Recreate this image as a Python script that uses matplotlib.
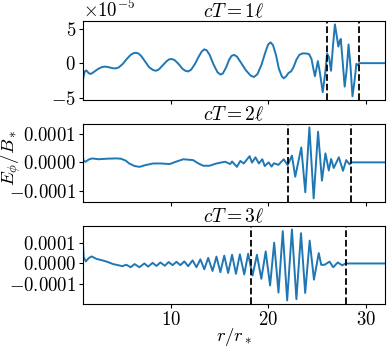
import matplotlib
matplotlib.use('Agg')
import matplotlib.pyplot as plt
import numpy as np

plt.rcParams['mathtext.fontset'] = 'cm'
plt.rcParams['font.family'] = 'serif'
plt.rcParams['font.serif'] = ['cmr10', 'DejaVu Serif']
plt.rcParams['axes.formatter.use_mathtext'] = True
plt.rcParams['font.size'] = 13.5

# panel 1 (cT = 1 l), values in units of 1e-5
r1 = [1.0, 1.1, 1.2, 1.35, 1.5, 1.7, 1.9, 2.2, 2.6, 3.0, 3.3, 3.7, 4.1, 4.4, 4.7, 5.1,
      5.5, 5.9, 6.2, 6.45, 6.7, 7.0, 7.4, 7.8, 8.2, 8.5, 8.8, 9.2, 9.6, 9.85, 10.1, 10.4,
      10.8, 11.2, 11.5, 11.8, 12.1, 12.5, 12.9, 13.2, 13.45, 13.7, 14.0, 14.4, 14.8, 15.1,
      15.35, 15.7, 16.0, 16.25, 16.5, 16.8, 17.2, 17.7, 18.2, 18.55, 18.9, 19.3, 19.7,
      20.0, 20.25, 20.5, 20.8, 21.1, 21.4, 21.6, 21.85, 22.1, 22.35, 22.6, 22.9, 23.2,
      23.5, 23.9, 24.2, 24.45, 24.65, 24.8, 24.95, 25.1, 25.3, 25.6, 25.85, 26.05, 26.25,
      26.45, 26.65, 26.85, 27.05, 27.2, 27.35, 27.45, 27.6, 27.85, 28.05, 28.25, 28.45,
      28.65, 28.85, 29.05, 29.2, 29.35, 32.0]
v1 = [-2.5, -1.7, -1.2, -1.05, -1.3, -1.55, -1.5, -1.2, -0.8, -0.55, -0.5, -0.6, -0.75,
      -0.75, -0.6, -0.1, 0.6, 1.2, 1.45, 1.5, 1.4, 1.0, 0.2, -0.6, -1.0, -1.1, -0.9, -0.3,
      0.3, 0.55, 0.6, 0.45, -0.1, -0.8, -1.1, -1.2, -0.95, -0.1, 1.0, 1.7, 2.0, 1.85, 1.2,
      -0.2, -1.3, -1.65, -1.5, -0.6, 0.5, 1.05, 1.2, 0.95, 0.1, -1.0, -1.8, -2.0, -1.6,
      -0.3, 1.5, 2.7, 3.0, 2.6, 1.2, -0.8, -1.9, -2.2, -1.9, -1.4, -1.2, -0.6, 0.5, 1.2,
      1.4, 1.4, 1.3, 0.6, -0.9, -1.9, -0.8, 0.3, -1.3, -4.2, -1.5, 1.4, 0.8,
      -1.1, 2.5, 5.6, 3.8, 2.4, 3.2, 3.5, 1.0, -3.4, -1.0, 2.7, -0.5,
      -4.8, -2.7, -0.1, -0.3, 0.0, 0.0]

# panel 2 (cT = 2 l), values in units of 1e-5
r2 = [1.0, 1.05, 1.25, 1.6, 1.95, 2.6, 3.5, 4.4, 4.9, 5.4, 5.75, 6.3, 6.8, 7.4, 8.2,
      9.0, 9.9, 10.6, 11.3, 12.3, 12.8, 13.35, 14.0, 14.6, 15.25, 15.6, 16.1, 16.3, 16.8,
      17.15, 17.5, 18.1, 18.35, 18.7, 19.05, 19.4, 19.65, 20.05, 20.35, 20.6, 21.05,
      21.6, 22.0, 22.44, 22.78, 23.4, 23.81, 24.23, 24.67, 25.12, 25.52, 25.88, 26.22,
      26.46, 26.73, 27.25, 27.68, 28.01, 28.35, 28.55, 32.0]
v2 = [2.6, 0.6, 0.2, 1.0, 1.4, 1.1, 1.3, 1.4, 1.3, 0.6, -0.4, -1.3, -1.6, -1.0, -0.4,
      -0.4, -0.6, 0.3, 1.1, 0.8, -0.3, -1.2, -1.2, -0.5, 0.0, 0.2, -0.6, 0.3, -1.6,
      0.5, -0.4, 2.2, -0.1, 1.8, -0.4, 1.1, -1.3, 0.0, -1.5, -0.3, -0.9,
      1.1, -1.0, 2.4, -5.1, 5.3, -10.6, 12.4, -12.8, 10.9, -6.5, 3.2, -2.9,
      1.2, -2.0, 1.8, -3.0, 0.8, -0.7, 0.0, 0.0]

# panel 3 (cT = 3 l), values in units of 1e-5
r3 = [1.0, 1.08, 1.3, 1.6, 1.9, 2.4, 3.0, 3.5, 4.1, 4.6, 5.05, 5.45, 5.9, 6.3, 6.8, 7.3,
      7.7, 8.15, 8.55, 8.95, 9.4, 9.79, 10.2, 10.6, 11.0, 11.4, 11.8, 12.25, 12.65,
      13.05, 13.45, 13.85, 14.3, 14.7, 15.1, 15.5, 15.9, 16.3, 16.7, 17.1, 17.55, 17.95,
      18.4, 18.85, 19.3, 19.75, 20.2, 20.62, 21.06, 21.5, 21.95, 22.44, 22.9, 23.37,
      23.8, 24.26, 24.7, 25.19, 25.45, 25.8, 26.3, 26.67, 27.14, 27.6, 27.85, 28.0, 32.0]
v3 = [10.3, 3.0, 1.0, 2.6, 3.4, 2.2, 1.5, 0.8, -0.3, -0.8, -1.3, -0.6, -1.8, -0.3, -1.8,
      0.0, -1.5, 0.3, -1.2, 0.5, -1.1, 0.7, -0.8, 0.8, -0.8, 1.0, -1.3, 1.5, -1.8,
      2.0, -2.8, 2.7, -3.6, 3.3, -4.2, 3.8, -4.6, 4.2, -5.0, 4.4, -5.3, 4.7,
      -5.8, 4.2, -7.4, 5.8, -10.6, 10.0, -14.0, 15.6, -17.8, 16.4, -17.2, 14.6,
      -14.2, 11.0, -7.8, 5.0, -0.7, -0.6, 0.9, -1.8, 0.5, -0.9, -0.2, 0.0, 0.0]

titles = [r'$cT = 1\ell$', r'$cT = 2\ell$', r'$cT = 3\ell$']
rs = [r1, r2, r3]
vs = [v1, v2, v3]
dashes = [[26.0, 29.3], [22.0, 28.5], [18.2, 28.0]]

fig = plt.figure(figsize=(3.91, 3.47), dpi=100)
boxes = [[0.212, 0.712, 0.773, 0.228],
         [0.212, 0.418, 0.773, 0.225],
         [0.212, 0.124, 0.773, 0.225]]
axes = []
for i in range(3):
    ax = fig.add_axes(boxes[i])
    ax.plot(rs[i], np.array(vs[i]) * 1e-5, color='#1f77b4', lw=1.4)
    for d in dashes[i]:
        ax.axvline(d, color='k', ls='--', lw=1.3)
    ax.set_xlim(1, 32)
    ax.set_xticks([10, 20, 30])
    ax.tick_params(labelsize=13.5, pad=2, length=3)
    ax.set_title(titles[i], fontsize=14, pad=2)
    if i < 2:
        ax.set_xticklabels([])
    axes.append(ax)

axes[2].set_xlabel(r'$r/r_*$', fontsize=13.5, labelpad=-2)
fig.text(0.03, 0.545, r'$E_\phi/B_*$', rotation=90, ha='center', va='center', fontsize=13.5)

plt.savefig('out.png', dpi=100)
